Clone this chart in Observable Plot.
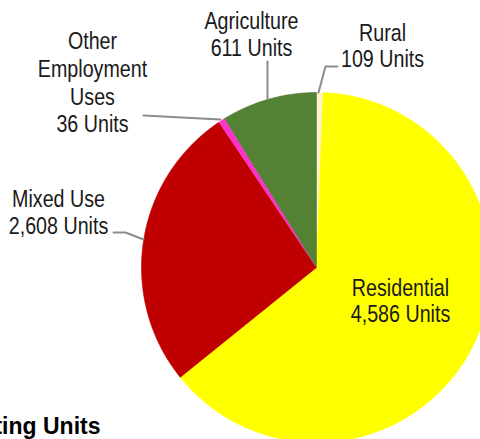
<!DOCTYPE html>
<html>
<head>
<meta charset="utf-8">
<script src="https://cdn.jsdelivr.net/npm/d3@7"></script>
<script src="https://cdn.jsdelivr.net/npm/@observablehq/plot@0.6"></script>
<style>
  html, body { margin: 0; padding: 0; background: #fff; }
  #chart svg { display: block; }
</style>
</head>
<body>
<div id="chart"></div>
<script>
// ---- data (clockwise from 12 o'clock) ----
const categories = ["Rural", "Residential", "Mixed Use", "Other Employment Uses", "Agriculture"];
const units = [109, 4586, 2608, 36, 611];
// slice shares as drawn in the reference pie (percent of circle)
const shares = [0.6, 63.6, 26.4, 0.6, 8.8];
const labelNames = ["Rural", "Residential", "Mixed Use", "Other\nEmployment\nUses", "Agriculture"];
const colors = ["#FFF2CC", "#FFFF00", "#C00000", "#FF33CC", "#548235"];
const title = "Existing Units";

// ---- layout (separate from data) ----
const W = 480, H = 439;
const CX = 316, CY = 267, R = 175;
const toX = px => px - CX, toY = py => CY - py;
const labelPos = {
  "Rural": {x: 382, y: 45, lh: 1.08},
  "Residential": {x: 400, y: 300, lh: 1.07},
  "Mixed Use": {x: 58, y: 211.5, lh: 1.12},
  "Other Employment Uses": {x: 92, y: 81.5, lh: 1.155},
  "Agriculture": {x: 251, y: 33.5, lh: 1.12}
};
const leaders = {
  "Rural": [[318, 92], [325, 66], [337, 66]],
  "Mixed Use": [[113, 232], [125, 232], [143, 239]],
  "Other Employment Uses": [[143, 115], [220, 119]],
  "Agriculture": [[267, 98], [267, 61]]
};

const fmt = d3.format(",");
const table = categories.map((c, i) => ({category: c, units: units[i], share: shares[i], name: labelNames[i]}));

// pie geometry through d3.pie
const arcs = d3.pie().sort(null).value(d => d.share).startAngle(0).endAngle(2 * Math.PI)(table);
const slicePts = [];
for (const a of arcs) {
  const n = Math.max(2, Math.ceil((a.endAngle - a.startAngle) / (Math.PI / 360)));
  slicePts.push({category: a.data.category, x: 0, y: 0});
  for (let k = 0; k <= n; k++) {
    const t = a.startAngle + (a.endAngle - a.startAngle) * k / n;
    slicePts.push({category: a.data.category, x: R * Math.sin(t), y: R * Math.cos(t)});
  }
  slicePts.push({category: a.data.category, x: 0, y: 0});
}

const labelData = table.map(d => ({
  category: d.category,
  text: d.name + "\n" + fmt(d.units) + " Units",
  x: toX(labelPos[d.category].x),
  y: toY(labelPos[d.category].y),
  lh: labelPos[d.category].lh
}));

const leaderPts = [];
for (const [c, pts] of Object.entries(leaders)) {
  for (const [px, py] of pts) leaderPts.push({category: c, x: toX(px), y: toY(py)});
}

const labelFont = "'Liberation Sans', Arial, sans-serif";

const marks = [
  Plot.line(slicePts, {x: "x", y: "y", z: "category", fill: "category", stroke: "category", strokeWidth: 0.6, curve: "linear"}),
  Plot.line(leaderPts, {x: "x", y: "y", z: "category", stroke: "#8c8c8c", strokeWidth: 2})
];
for (const d of labelData) {
  marks.push(Plot.text([d], {
    x: "x", y: "y", text: "text",
    fill: "#1a1a1a", fontSize: 24, lineHeight: d.lh,
    textAnchor: "middle", lineAnchor: "middle",
    fontFamily: labelFont, className: "narrow-label"
  }));
}
marks.push(Plot.text([{t: title, x: toX(100), y: toY(433)}], {
  x: "x", y: "y", text: "t", textAnchor: "end", lineAnchor: "bottom",
  fontSize: 23, fontWeight: "bold", fill: "#000", fontFamily: "'Liberation Sans', Arial, sans-serif"
}));

const chart = Plot.plot({
  width: W, height: H,
  marginTop: 0, marginRight: 0, marginBottom: 0, marginLeft: 0,
  x: {domain: [toX(0), toX(W)], axis: null},
  y: {domain: [toY(H), toY(0)], axis: null},
  color: {domain: categories, range: colors},
  style: {background: "#fff", overflow: "hidden"},
  marks
});

// condense the label font horizontally (Arial Narrow look) around each text's anchor
chart.querySelectorAll(".narrow-label text").forEach(t => {
  const x = +(t.getAttribute("x") || 0), y = +(t.getAttribute("y") || 0);
  const tr = t.getAttribute("transform") || "";
  t.removeAttribute("x"); t.removeAttribute("y");
  t.querySelectorAll("tspan").forEach(s => { if (s.hasAttribute("x")) s.setAttribute("x", +s.getAttribute("x") - x); });
  t.setAttribute("transform", `${tr} translate(${x},${y}) scale(0.82,1)`);
});
document.getElementById("chart").appendChild(chart);
</script>
</body>
</html>
